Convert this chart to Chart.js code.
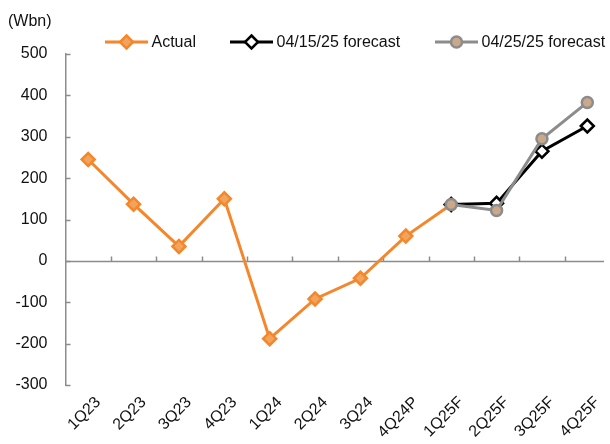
<!DOCTYPE html>
<html>
<head>
<meta charset="utf-8">
<script src="https://cdn.jsdelivr.net/npm/chart.js@4/dist/chart.umd.min.js"></script>
<style>
  html, body { margin: 0; padding: 0; background: #ffffff; }
  #wrap { width: 610px; height: 444px; position: relative; }
</style>
</head>
<body>
<div id="wrap"><canvas id="c" width="610" height="444"></canvas></div>
<script>
const categories = ['1Q23','2Q23','3Q23','4Q23','1Q24','2Q24','3Q24','4Q24P','1Q25F','2Q25F','3Q25F','4Q25F'];
const actual      = [245, 137, 35, 150, -188, -92, -42, 60, 136, null, null, null];
const forecast0415 = [null, null, null, null, null, null, null, null, 136, 139, 265, 326];
const forecast0425 = [null, null, null, null, null, null, null, null, 136, 122, 295, 383];
const seriesNames = ['Actual', '04/15/25 forecast', '04/25/25 forecast'];
const yTicks = [-300, -200, -100, 0, 100, 200, 300, 400, 500];
const unitLabel = '(Wbn)';

const FONT = '"Liberation Sans", Arial, sans-serif';
const TEXT = '#111111';
const AXIS = '#8c8c8c';
const ORANGE = '#f5862a';
const ORANGE_FILL = '#f1a45e';
const GRAY = '#8c8c8c';
const GRAY_FILL = '#c9a98a';

function drawMarker(ctx, style, x, y, r, fill, stroke, bw) {
  ctx.save();
  ctx.beginPath();
  if (style === 'circle') {
    ctx.arc(x, y, r, 0, Math.PI * 2);
  } else {
    ctx.moveTo(x, y - r); ctx.lineTo(x + r, y); ctx.lineTo(x, y + r); ctx.lineTo(x - r, y); ctx.closePath();
  }
  ctx.fillStyle = fill; ctx.fill();
  ctx.lineWidth = bw; ctx.strokeStyle = stroke; ctx.stroke();
  ctx.restore();
}

const decor = {
  id: 'decor',
  beforeDatasetsDraw(chart) {
    const ctx = chart.ctx, xs = chart.scales.x, ys = chart.scales.y, ca = chart.chartArea;
    ctx.save();
    ctx.strokeStyle = AXIS; ctx.lineWidth = 1.5;
    ys.ticks.forEach((t, i) => {
      const py = Math.round(ys.getPixelForTick(i)) + 0.5;
      ctx.beginPath(); ctx.moveTo(ca.left, py); ctx.lineTo(ca.left + 5, py); ctx.stroke();
    });
    const y0 = Math.round(ys.getPixelForValue(0)) + 0.5;
    ctx.beginPath(); ctx.moveTo(ca.left, y0); ctx.lineTo(Math.min(ca.right, 604), y0); ctx.stroke();
    for (let i = 1; i < categories.length; i++) {
      const px = Math.round((xs.getPixelForTick(i - 1) + xs.getPixelForTick(i)) / 2) + 0.5;
      ctx.beginPath(); ctx.moveTo(px, y0); ctx.lineTo(px, y0 - 5); ctx.stroke();
    }
    ctx.restore();
  },
  afterDraw(chart) {
    const ctx = chart.ctx;
    ctx.save();
    ctx.fillStyle = TEXT;
    ctx.font = '16px ' + FONT;
    ctx.textBaseline = 'middle';
    ctx.textAlign = 'left';
    ctx.fillText(unitLabel, 8, 22);
    const items = [
      {x: 105, ds: chart.data.datasets[0], style: 'diamond'},
      {x: 230, ds: chart.data.datasets[1], style: 'diamond'},
      {x: 435, ds: chart.data.datasets[2], style: 'circle'}
    ];
    const ly = 42;
    items.forEach(it => {
      const ds = it.ds;
      ctx.strokeStyle = ds.borderColor; ctx.lineWidth = 3;
      ctx.beginPath(); ctx.moveTo(it.x, ly); ctx.lineTo(it.x + 43, ly); ctx.stroke();
      drawMarker(ctx, it.style, it.x + 21.5, ly, ds.pointRadius, ds.pointBackgroundColor, ds.pointBorderColor, ds.pointBorderWidth);
      ctx.fillStyle = TEXT;
      ctx.fillText(ds.label, it.x + 46.5, ly + 1);
    });
    ctx.restore();
  }
};

new Chart(document.getElementById('c'), {
  type: 'line',
  data: {
    labels: categories,
    datasets: [
      {
        label: seriesNames[0], data: actual,
        borderColor: ORANGE, borderWidth: 3,
        pointStyle: 'rectRot', pointRadius: 6.5, pointBackgroundColor: ORANGE_FILL,
        pointBorderColor: ORANGE, pointBorderWidth: 2.5, tension: 0, order: 3
      },
      {
        label: seriesNames[1], data: forecast0415,
        borderColor: '#000000', borderWidth: 3,
        pointStyle: 'rectRot', pointRadius: 6.5, pointBackgroundColor: '#ffffff',
        pointBorderColor: '#000000', pointBorderWidth: 2.5, tension: 0, order: 2
      },
      {
        label: seriesNames[2], data: forecast0425,
        borderColor: GRAY, borderWidth: 3,
        pointStyle: 'circle', pointRadius: 5.5, pointBackgroundColor: GRAY_FILL,
        pointBorderColor: GRAY, pointBorderWidth: 2.5, tension: 0, order: 1
      }
    ]
  },
  options: {
    responsive: false,
    animation: false,
    devicePixelRatio: 1,
    layout: { autoPadding: false, padding: { top: 54, right: 0, left: 0, bottom: 0 } },
    plugins: {
      legend: { display: false },
      tooltip: { enabled: false },
      title: { display: false }
    },
    scales: {
      x: {
        type: 'category',
        offset: true,
        grid: { display: false, drawTicks: false },
        border: { display: false },
        afterFit(scale) { scale.height = 59; scale.paddingRight = 0; scale.paddingLeft = 0; },
        ticks: {
          color: TEXT, font: { family: FONT, size: 16 },
          minRotation: 45, maxRotation: 45, autoSkip: false, padding: 8, labelOffset: 10
        }
      },
      y: {
        min: -300, max: 500,
        afterBuildTicks(scale) { scale.ticks = yTicks.map(v => ({value: v})); },
        afterFit(scale) { scale.width = 65.5; scale.paddingTop = 0; scale.paddingBottom = 0; },
        grid: { display: false, drawTicks: false },
        border: { display: true, color: AXIS, width: 1.5 },
        ticks: { color: TEXT, font: { family: FONT, size: 16 }, padding: 18 }
      }
    }
  },
  plugins: [decor]
});
</script>
</body>
</html>
